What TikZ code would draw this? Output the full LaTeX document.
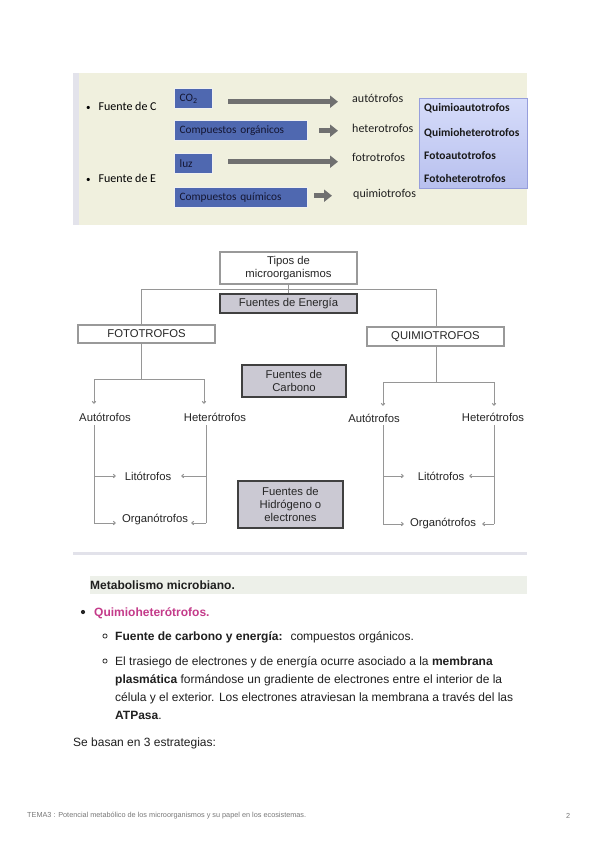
\documentclass[tikz,border=0pt]{standalone}
\usepackage{fontspec}
\setmainfont{Liberation Sans}
\newfontfamily\calfont{Carlito}
\usetikzlibrary{arrows.meta,calc}
\definecolor{panelbg}{RGB}{240,240,222}
\definecolor{panelstrip}{RGB}{227,227,235}
\definecolor{boxblue}{RGB}{79,104,176}
\definecolor{boxtext}{RGB}{20,22,50}
\definecolor{lav1}{RGB}{214,220,250}
\definecolor{lav2}{RGB}{184,192,238}
\definecolor{lavborder}{RGB}{150,158,220}
\definecolor{arrgray}{RGB}{112,112,112}
\definecolor{diagline}{RGB}{150,150,150}
\definecolor{srcfill}{RGB}{203,201,211}
\definecolor{sepline}{RGB}{226,226,234}
\definecolor{headbg}{RGB}{237,240,233}
\definecolor{pinkhead}{RGB}{196,59,138}
\definecolor{foot}{RGB}{120,120,120}
\begin{document}
\begin{tikzpicture}[x=1pt,y=-1pt,
  bluebox/.style={draw=white!88!gray, line width=1.4pt, fill=boxblue, inner ysep=0pt, inner xsep=5pt,
     minimum height=20pt, anchor=north west, font=\calfont\fontsize{11.3}{13}\selectfont, text=boxtext, align=left},
  lbl/.style={anchor=west, inner sep=0pt, font=\calfont\fontsize{12}{14}\selectfont, text=black!88},
  typ/.style={anchor=base west, inner sep=0pt, font=\calfont\bfseries\fontsize{11.5}{13}\selectfont, text=black!90},
  blk/.style={line width=5.5pt, draw=arrgray, -{Triangle[length=8pt,width=12pt]}},
  wbox/.style={draw=black!40, line width=1.1pt, fill=white, inner sep=0pt, align=center,
     font=\fontsize{11.3}{13}\selectfont, text=black!85},
  sbox/.style={draw=black!75, line width=1.3pt, fill=srcfill, inner sep=0pt, align=center,
     font=\fontsize{11.3}{13}\selectfont, text=black!85},
  dtxt/.style={inner sep=0pt, font=\fontsize{11.3}{13}\selectfont, text=black!85},
  dl/.style={draw=diagline, line width=1pt},
  da/.style={draw=diagline, line width=1pt, -{Straight Barb[length=2pt,width=3.5pt]}},
  body/.style={anchor=base west, inner sep=0pt, font=\fontsize{12}{14}\selectfont, text=black!88}
]
\useasboundingbox (0,0) rectangle (600,848);
\fill[white] (0,0) rectangle (600,848);

% ---------- top panel ----------
\fill[panelbg] (73,73) rectangle (527,225);
\fill[panelstrip] (73,73) rectangle (79,225);

\node[anchor=base west, inner sep=0pt, font=\calfont\fontsize{12}{13}\selectfont] (fc) at (86,111) {{\fontsize{9}{9}\selectfont•}\hspace{8pt}Fuente de C};
\node[anchor=base west, inner sep=0pt, font=\calfont\fontsize{12}{13}\selectfont] (fe) at (86,182) {{\fontsize{9}{9}\selectfont•}\hspace{8pt}Fuente de E};

\node[bluebox, text width=28pt] (co2) at (174,88) {CO\textsubscript{2}};
\node[bluebox, text width=123pt] (corg) at (174,120) {Compuestos orgánicos};
\node[bluebox, text width=28pt] (luz) at (174,153) {luz};
\node[bluebox, text width=123pt] (cqui) at (174,187) {Compuestos químicos};

\node[lbl] (auto) at (352,98) {autótrofos};
\node[lbl] (hetero) at (352,128) {heterotrofos};
\node[lbl] (foto) at (352,157) {fotrotrofos};
\node[lbl] (quimio) at (353,194) {quimiotrofos};

\draw[blk] ($(co2.east)+(15,3)$) -- ($(co2.east -| auto.west)+(-14,3)$);
\draw[blk] ($(corg.east)+(11,0)$) -- ($(corg.east -| hetero.west)+(-14,0)$);
\draw[blk] ($(luz.east)+(15,-2)$) -- ($(luz.east -| foto.west)+(-14,-2)$);
\draw[blk] ($(cqui.east)+(6,-2)$) -- ($(cqui.east -| quimio.west)+(-21,-2)$);

\node[draw=lavborder, line width=1pt, top color=lav1, bottom color=lav2, minimum width=108pt,
      minimum height=90pt, anchor=north west, inner sep=0pt] (types) at (419,98) {};
\node[typ] (t1) at (424,112) {Quimioautotrofos};
\node[typ] (t2) at (424,136) {Quimioheterotrofos};
\node[typ] (t3) at (424,159) {Fotoautotrofos};
\node[typ] (t4) at (424,182) {Fotoheterotrofos};

% ---------- middle diagram ----------
\node[wbox, minimum width=137pt, minimum height=32pt] (tipos) at (288.5,268) {Tipos de\\microorganismos};
\node[sbox, minimum width=137pt, minimum height=19pt] (energia) at (288.5,303.5) {Fuentes de Energía};
\node[wbox, minimum width=137pt, minimum height=18pt] (fotot) at (146.5,334) {FOTOTROFOS};
\node[wbox, minimum width=137pt, minimum height=19pt] (quimt) at (435.5,336.5) {QUIMIOTROFOS};
\node[sbox, minimum width=104pt, minimum height=32pt] (carb) at (294,381) {Fuentes de\\Carbono};
\node[sbox, minimum width=105pt, minimum height=47pt] (hidr) at (290.5,504.5) {Fuentes de\\Hidrógeno o\\electrones};

\node[dtxt] (la) at (105,417) {Autótrofos};
\node[dtxt] (lh) at (215,417) {Heterótrofos};
\node[dtxt] (ll) at (148,476) {Litótrofos};
\node[dtxt] (lo) at (155,520) {Organótrofos};
\node[dtxt] (ra) at (374,418) {Autótrofos};
\node[dtxt] (rh) at (493,417) {Heterótrofos};
\node[dtxt] (rl) at (441,476) {Litótrofos};
\node[dtxt] (ro) at (443,524) {Organótrofos};

\coordinate (jl) at (141,289);
\coordinate (jr) at (436,289);
\draw[dl] (tipos.south) -- (energia.north);
\draw[dl] (jl) -- (jr);
\draw[dl] (jl) -- (jl |- fotot.north);
\draw[dl] (jr) -- (jr |- quimt.north);

% left tree
\draw[dl] (141,343) -- (141,379);
\draw[dl] (94,379) -- (204,379);
\draw[da] (94,379) -- (94,404);
\draw[da] (204,379) -- (204,404);
\draw[dl] (94,425) -- (94,523);
\draw[dl] (206,425) -- (206,523);
\draw[da] (94,476) -- (116,476);
\draw[da] (94,523) -- (116,523);
\draw[da] (206,476) -- (181,476);
\draw[da] (206,523) -- (191,523);

% right tree
\draw[dl] (436,346) -- (436,382);
\draw[dl] (383,382) -- (494,382);
\draw[da] (383,382) -- (383,406);
\draw[da] (494,382) -- (494,406);
\draw[dl] (383,425) -- (383,524);
\draw[dl] (494,425) -- (494,524);
\draw[da] (383,476) -- (404,476);
\draw[da] (383,524) -- (404,524);
\draw[da] (494,476) -- (469,476);
\draw[da] (494,524) -- (482,524);

% ---------- separator ----------
\draw[sepline, line width=3pt] (73,553) -- (527,553);

% ---------- text ----------
\fill[headbg] (90,576) rectangle (527,594);
\node[body, font=\bfseries\fontsize{12}{14}\selectfont] (h1) at (90,589.5) {Metabolismo microbiano.};

\fill[black!85] (83,612) circle (2.1pt);
\node[body, font=\bfseries\fontsize{12}{14}\selectfont, text=pinkhead] (b1) at (94,616.5) {Quimioheterótrofos.};

\draw[black!80, line width=0.8pt] (105,636) circle (2.1pt);
\node[body] (s1) at (115,640.5) {\textbf{Fuente de carbono y energía:}\hspace{8pt}compuestos orgánicos.};

\draw[black!80, line width=0.8pt] (105,661) circle (2.1pt);
\node[body] (s2a) at (115,665.5) {El trasiego de electrones y de energía ocurre asociado a la \textbf{membrana}};
\node[body] (s2b) at (115,683.5) {\textbf{plasmática} formándose un gradiente de electrones entre el interior de la};
\node[body] (s2c) at (115,701.5) {célula y el exterior. Los electrones atraviesan la membrana a través del las};
\node[body] (s2d) at (115,719.5) {\textbf{ATPasa}.};

\node[body] (se) at (73,746.5) {Se basan en 3 estrategias:};

% ---------- footer ----------
\node[anchor=west, inner sep=0pt, font=\fontsize{7.3}{8}\selectfont, text=foot] (ft) at (27,816)
  {TEMA3 : Potencial metabólico de los microorganismos y su papel en los ecosistemas.};
\node[anchor=west, inner sep=0pt, font=\fontsize{7.3}{8}\selectfont, text=foot] (pg) at (566,816) {2};
\end{tikzpicture}
\end{document}
